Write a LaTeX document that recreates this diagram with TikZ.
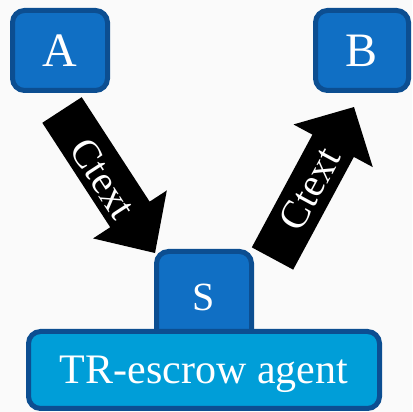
\documentclass[tikz,border=0pt]{standalone}
\usepackage{fontspec}
\setmainfont{Liberation Serif}
\definecolor{boxline}{RGB}{12,78,145}
\definecolor{boxblue}{RGB}{16,111,196}
\definecolor{agentblue}{RGB}{0,158,216}
\definecolor{paper}{RGB}{250,250,250}
\begin{document}
\begin{tikzpicture}[x=1pt,y=1pt,
  box/.style={draw=boxline, line width=5pt, rounded corners=12pt, fill=#1,
              text=white, inner sep=0pt},
  bigfont/.style={font=\fontsize{48}{48}\selectfont},
  arrowtext/.style={text=white, inner sep=0pt, font=\fontsize{40}{40}\selectfont}]
\fill[paper] (0,0) rectangle (412,412);
\useasboundingbox (0,0) rectangle (412,412);

% parties
\node[box=boxblue, bigfont, minimum width=95pt, minimum height=80pt] (A) at (60,361.5) {A};
\node[box=boxblue, bigfont, minimum width=93pt, minimum height=80pt] (B) at (362,361.5) {B};
\node[box=boxblue, font=\fontsize{40}{40}\selectfont, minimum width=95pt, minimum height=92pt] (S) at (204,114.5) {S};
\node[box=agentblue, font=\fontsize{42}{42}\selectfont, text depth=0pt,
      minimum width=351pt, minimum height=77pt] (TR) at (204,42) {TR-escrow agent};

% block arrow A -> S
\begin{scope}[shift={(62,302)}, rotate=-56.96]
  \fill[black] (0,-23.5) -- (124.6,-23.5) -- (124.6,-44) -- (170.6,0)
    -- (124.6,44) -- (124.6,23.5) -- (0,23.5) -- cycle;
  \node[arrowtext, rotate=-56.96] (c1) at (80,-3) {Ctext};
\end{scope}

% block arrow S -> B
\begin{scope}[shift={(272.5,153.5)}, rotate=61.72]
  \fill[black] (0,-23.5) -- (128,-23.5) -- (128,-45) -- (172,0)
    -- (128,45) -- (128,23.5) -- (0,23.5) -- cycle;
  \node[arrowtext, rotate=61.72] (c2) at (79,0) {Ctext};
\end{scope}
\end{tikzpicture}
\end{document}
